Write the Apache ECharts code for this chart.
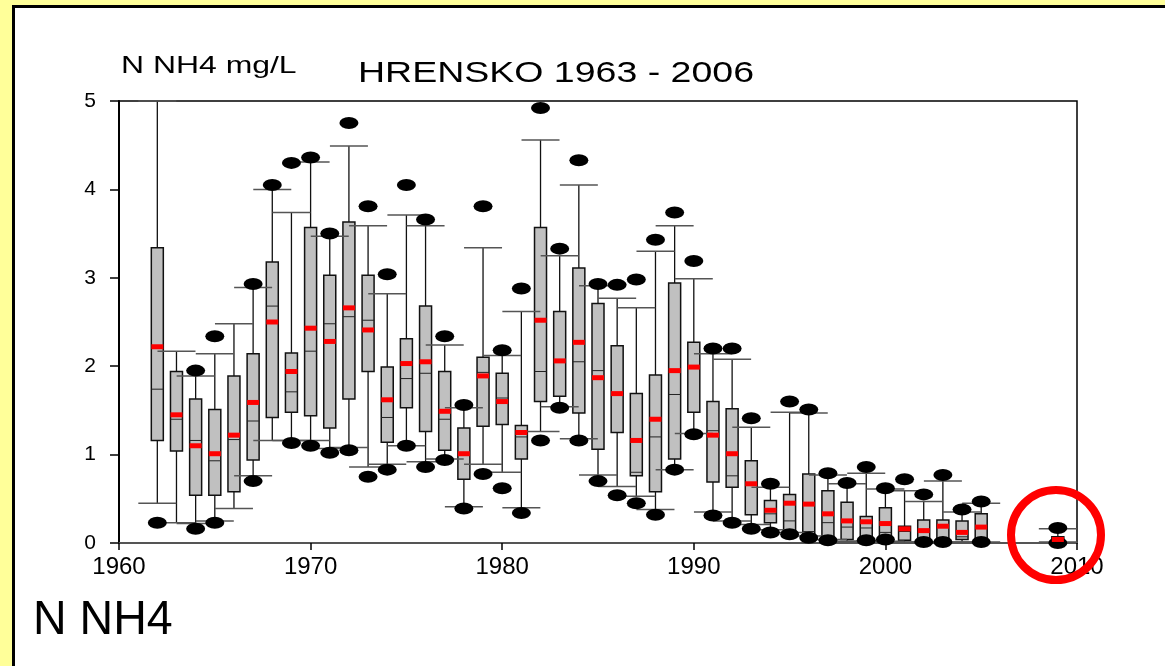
<!DOCTYPE html>
<html>
<head>
    <meta charset="UTF-8">
    <title>HRENSKO N NH4</title>
    <script src="https://cdn.jsdelivr.net/npm/echarts/dist/echarts.min.js" type="text/javascript"></script>
    <style>
        html, body { margin: 0; padding: 0; background: #ffff99; }
    </style>
</head>
<body>
<div id="box" style="width:1165px;height:666px"></div>
<script type="text/javascript">
    // yearly statistics of N-NH4 (mg/L)
    var years = [1962,1963,1964,1965,1966,1967,1968,1969,1970,1971,1972,1973,1974,1975,1976,1977,1978,1979,1980,1981,1982,1983,1984,
                 1985,1986,1987,1988,1989,1990,1991,1992,1993,1994,1995,1996,1997,1998,1999,2000,2001,2002,2003,2004,2005,2009];
    var lowW  = [0.45,0.23,0.22,0.25,0.39,0.76,1.16,1.16,1.16,1.07,1.08,0.86,0.89,1.10,0.92,0.95,0.41,0.89,0.80,0.40,1.26,1.54,1.18,
                 0.77,0.64,0.53,0.38,0.83,1.24,0.35,0.25,0.21,0.15,0.12,0.08,0.04,0.02,0.02,0.02,0.01,0.01,0.01,0.01,0.01,0.01];
    var q1    = [1.16,1.04,0.54,0.54,0.58,0.94,1.42,1.48,1.44,1.30,1.63,1.94,1.14,1.53,1.26,1.05,0.72,1.32,1.34,0.95,1.60,1.66,1.47,
                 1.06,1.25,0.76,0.58,0.95,1.48,0.69,0.63,0.32,0.23,0.14,0.10,0.06,0.04,0.05,0.05,0.03,0.04,0.04,0.04,0.03,0.02];
    var med   = [1.74,1.40,1.16,0.93,1.17,1.38,2.68,1.71,2.17,2.48,2.56,2.52,1.42,1.86,1.92,1.40,1.00,1.93,1.64,1.20,1.94,2.06,2.05,
                 1.95,1.69,0.80,1.20,1.68,1.99,1.27,0.76,0.67,0.33,0.25,0.13,0.23,0.18,0.17,0.12,0.13,0.05,0.05,0.07,0.18,0.04];
    var q3    = [3.34,1.94,1.63,1.51,1.89,2.14,3.18,2.15,3.57,3.03,3.63,3.03,1.99,2.31,2.68,1.94,1.30,2.10,1.92,1.33,3.57,2.62,3.11,
                 2.71,2.23,1.69,1.90,2.94,2.27,1.60,1.52,0.93,0.48,0.55,0.78,0.59,0.46,0.30,0.40,0.19,0.26,0.26,0.25,0.33,0.07];
    var highW = [5.00,2.17,1.89,2.14,2.48,2.89,4.00,3.74,4.31,3.47,4.49,3.59,2.82,3.71,3.59,2.24,1.53,3.34,2.12,2.62,4.56,3.25,4.05,
                 2.91,2.77,2.66,3.30,3.59,2.99,2.14,2.08,1.31,0.63,1.48,1.47,0.77,0.67,0.79,0.61,0.59,0.47,0.70,0.35,0.45,0.16];
    var means = [2.22,1.45,1.10,1.01,1.22,1.59,2.50,1.94,2.43,2.28,2.66,2.41,1.62,2.03,2.05,1.49,1.01,1.89,1.60,1.25,2.52,2.06,2.27,
                 1.87,1.69,1.16,1.40,1.95,1.99,1.22,1.01,0.67,0.37,0.45,0.44,0.33,0.25,0.24,0.22,0.16,0.14,0.19,0.12,0.18,0.04];
    // outliers (year, value)
    var outYears = [1962,1964,1964,1965,1965,1967,1967,1968,1969,1969,1970,1970,1971,1971,1972,1972,1973,1973,1974,1974,1975,1975,
                    1976,1976,1977,1977,1978,1978,1979,1979,1980,1980,1981,1981,1982,1982,1983,1983,1984,1984,1985,1985,1986,1986,
                    1987,1987,1988,1988,1989,1989,1990,1990,1991,1991,1992,1992,1993,1993,1994,1994,1995,1995,1996,1996,1997,1997,
                    1998,1999,1999,2000,2000,2001,2002,2002,2003,2003,2004,2005,2005,2009,2009];
    var outVals  = [0.23,1.95,0.16,2.34,0.23,2.93,0.70,4.05,4.30,1.13,4.36,1.10,3.50,1.02,4.75,1.05,3.81,0.75,3.04,0.83,4.05,1.10,
                    3.66,0.86,2.34,0.94,1.56,0.39,3.81,0.78,2.18,0.62,2.88,0.34,4.92,1.16,3.33,1.53,4.33,1.16,2.93,0.70,2.92,0.54,
                    2.98,0.45,3.43,0.32,3.74,0.83,3.19,1.23,2.20,0.31,2.20,0.23,1.41,0.16,0.67,0.12,1.60,0.10,1.51,0.06,0.79,0.03,
                    0.68,0.86,0.03,0.62,0.04,0.72,0.55,0.01,0.77,0.01,0.38,0.47,0.01,0.17,0.00];

    var boxData = years.map(function (y, i) {
        return [y, lowW[i], q1[i], med[i], q3[i], highW[i], means[i]];
    });
    var outData = outYears.map(function (y, i) {
        return [y, outVals[i]];
    });

    var FONT = '"Liberation Sans", Arial, sans-serif';
    var myChart = echarts.init(document.getElementById('box'));

    // box, whiskers and median
    function renderBox(params, api) {
        var x = api.value(0);
        var pLow = api.coord([x, api.value(1)]);
        var pQ1 = api.coord([x, api.value(2)]);
        var pMed = api.coord([x, api.value(3)]);
        var pQ3 = api.coord([x, api.value(4)]);
        var pHigh = api.coord([x, api.value(5)]);
        var cx = pQ1[0];
        var hw = 6;
        return {
            type: 'group',
            children: [
                {type: 'line', shape: {x1: cx, y1: pLow[1], x2: cx, y2: pQ1[1]}, style: {stroke: '#111', lineWidth: 1.3}},
                {type: 'line', shape: {x1: cx, y1: pQ3[1], x2: cx, y2: pHigh[1]}, style: {stroke: '#111', lineWidth: 1.3}},
                {type: 'rect', shape: {x: cx - hw, y: pQ3[1], width: hw * 2, height: pQ1[1] - pQ3[1]},
                    style: {fill: '#c0c0c0', stroke: '#111', lineWidth: 1.5}},
                {type: 'line', shape: {x1: cx - hw, y1: pMed[1], x2: cx + hw, y2: pMed[1]}, style: {stroke: '#222', lineWidth: 1}}
            ]
        };
    }

    // whisker caps, wider than the boxes
    function renderCaps(params, api) {
        var x = api.value(0);
        var pLow = api.coord([x, api.value(1)]);
        var pHigh = api.coord([x, api.value(5)]);
        var cx = pLow[0];
        var w = 19;
        return {
            type: 'group',
            children: [
                {type: 'line', shape: {x1: cx - w, y1: pLow[1], x2: cx + w, y2: pLow[1]}, style: {stroke: '#555', lineWidth: 1.5}},
                {type: 'line', shape: {x1: cx - w, y1: pHigh[1], x2: cx + w, y2: pHigh[1]}, style: {stroke: '#555', lineWidth: 1.5}}
            ]
        };
    }

    // red mean bar, on top of everything
    function renderMean(params, api) {
        var p = api.coord([api.value(0), api.value(6)]);
        return {type: 'rect', shape: {x: p[0] - 6, y: p[1] - 2.5, width: 12, height: 5}, style: {fill: '#ff0000'}};
    }

    option = {
        animation: false,
        backgroundColor: '#ffff99',
        grid: {
            left: 119,
            right: 88,
            top: 101,
            bottom: 123,
            show: true,
            borderColor: '#000',
            borderWidth: 1.5,
            outerBoundsMode: 'none'
        },
        xAxis: {
            type: 'value',
            min: 1960,
            max: 2010,
            interval: 10,
            splitLine: {show: false},
            axisLine: {lineStyle: {color: '#555', width: 2}},
            axisTick: {length: 7, lineStyle: {color: '#000', width: 1.5}},
            axisLabel: {fontSize: 24, color: '#000', fontFamily: FONT, margin: 12,
                formatter: function (v) { return String(v); }}
        },
        yAxis: {
            type: 'value',
            min: 0,
            max: 5,
            interval: 1,
            splitLine: {show: false},
            axisLine: {show: true, lineStyle: {color: '#000', width: 2}},
            axisTick: {show: true, length: 9, lineStyle: {color: '#000', width: 1.5}},
            axisLabel: {fontSize: 21, color: '#000', fontFamily: FONT, margin: 23}
        },
        graphic: [
            {type: 'rect', z: -10, shape: {x: 13.5, y: 6.5, width: 1200, height: 700},
                style: {fill: '#fff', stroke: '#000', lineWidth: 3}},
            {type: 'text', x: 121, y: 66, scaleX: 1.33,
                style: {text: 'N NH4 mg/L', font: '24px ' + FONT, fill: '#000', verticalAlign: 'middle'}},
            {type: 'text', x: 358, y: 74, scaleX: 1.25,
                style: {text: 'HRENSKO 1963 - 2006', font: '30px ' + FONT, fill: '#000', verticalAlign: 'middle'}},
            {type: 'text', x: 33, y: 621, scaleX: 0.97,
                style: {text: 'N NH4', font: '48px ' + FONT, fill: '#000', verticalAlign: 'middle'}},
            {type: 'circle', z: 100, shape: {cx: 1056, cy: 535, r: 45},
                style: {fill: 'none', stroke: '#ff0000', lineWidth: 8}}
        ],
        series: [
            {
                type: 'custom',
                renderItem: renderBox,
                data: boxData,
                encode: {x: 0, y: [1, 2, 3, 4, 5]},
                z: 2
            },
            {
                type: 'custom',
                renderItem: renderCaps,
                data: boxData,
                encode: {x: 0, y: [1, 5]},
                z: 3
            },
            {
                type: 'scatter',
                data: outData,
                symbol: 'circle',
                symbolSize: [19, 12],
                itemStyle: {color: '#000', opacity: 1},
                clip: false,
                z: 4
            },
            {
                type: 'custom',
                renderItem: renderMean,
                data: boxData,
                encode: {x: 0, y: 6},
                z: 5
            }
        ]
    };
    myChart.setOption(option);
</script>
</body>
</html>
